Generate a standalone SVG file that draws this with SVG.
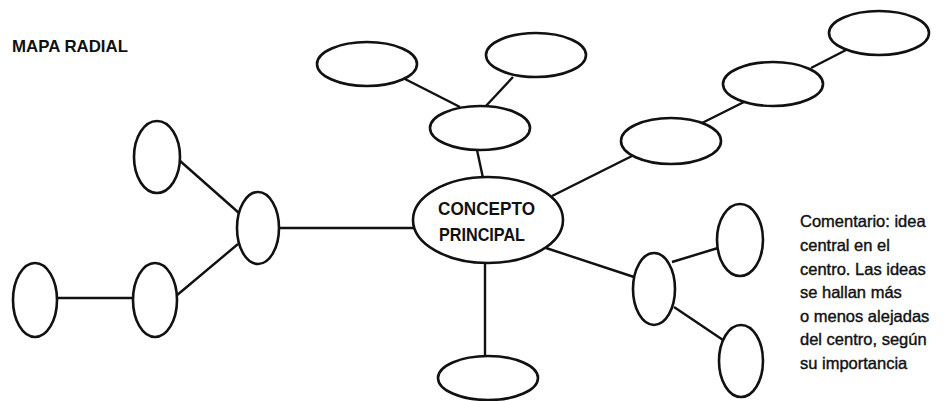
<svg xmlns="http://www.w3.org/2000/svg" width="948" height="401" viewBox="0 0 948 401">
<style>
.n{fill:#fff;stroke:#111;stroke-width:2.6}
.c line{stroke:#111;stroke-width:2.4}
.t{font-family:"Liberation Sans",Arial,sans-serif;fill:#111}
.b{font-weight:bold}
.m{stroke:#111;stroke-width:0.4}
</style>
<rect width="948" height="401" fill="#fff"/>
<text class="t b" x="12" y="52" font-size="17" textLength="116" lengthAdjust="spacingAndGlyphs">MAPA RADIAL</text>
<g id="connectors" class="c">
<line x1="57" y1="298" x2="133" y2="298"/>
<line x1="176" y1="296" x2="238" y2="244"/>
<line x1="179" y1="160" x2="239" y2="213"/>
<line x1="279" y1="228" x2="414" y2="228"/>
<line x1="485" y1="262" x2="485" y2="356"/>
<line x1="546" y1="248" x2="634" y2="277"/>
<line x1="672" y1="262" x2="718" y2="248"/>
<line x1="674" y1="307" x2="723" y2="340"/>
<line x1="552" y1="196" x2="634" y2="155"/>
<line x1="702" y1="123" x2="744" y2="102"/>
<line x1="811" y1="68" x2="848" y2="49"/>
<line x1="477" y1="150" x2="483" y2="178"/>
<line x1="403" y1="78" x2="460" y2="107"/>
<line x1="513" y1="77" x2="485" y2="107"/>
</g>
<g id="left1"><ellipse class="n" cx="35" cy="300" rx="22" ry="37"/></g>
<g id="left2"><ellipse class="n" cx="155" cy="300" rx="22" ry="37"/></g>
<g id="left-top"><ellipse class="n" cx="157" cy="157" rx="23" ry="36"/></g>
<g id="left-hub"><ellipse class="n" cx="258" cy="228" rx="21" ry="36"/></g>
<g id="center"><ellipse class="n" cx="488" cy="220" rx="75" ry="43"/>
<text class="t b" x="438" y="215" font-size="19" textLength="97" lengthAdjust="spacingAndGlyphs">CONCEPTO</text>
<text class="t b" x="439" y="241" font-size="19" textLength="86" lengthAdjust="spacingAndGlyphs">PRINCIPAL</text></g>
<g id="bottom"><ellipse class="n" cx="488" cy="378" rx="50" ry="22"/></g>
<g id="top-mid"><ellipse class="n" cx="480" cy="128" rx="50" ry="22"/></g>
<g id="top-left"><ellipse class="n" cx="367" cy="64" rx="50" ry="22"/></g>
<g id="top-right"><ellipse class="n" cx="536" cy="55" rx="50" ry="22"/></g>
<g id="chain1"><ellipse class="n" cx="671" cy="141" rx="50" ry="23"/></g>
<g id="chain2"><ellipse class="n" cx="773" cy="84" rx="50" ry="22"/></g>
<g id="chain3"><ellipse class="n" cx="879" cy="33" rx="50" ry="22"/></g>
<g id="right-hub"><ellipse class="n" cx="654" cy="289" rx="21" ry="36"/></g>
<g id="right-top"><ellipse class="n" cx="740" cy="240" rx="23" ry="36"/></g>
<g id="right-bottom"><ellipse class="n" cx="741" cy="361" rx="22" ry="36"/></g>
<g id="comment" class="t m" font-size="16.5">
<text x="800" y="227">Comentario: idea</text>
<text x="800" y="251">central en el</text>
<text x="800" y="275">centro. Las ideas</text>
<text x="800" y="298">se hallan más</text>
<text x="800" y="322">o menos alejadas</text>
<text x="800" y="345">del centro, según</text>
<text x="800" y="369">su importancia</text>
</g>
</svg>
